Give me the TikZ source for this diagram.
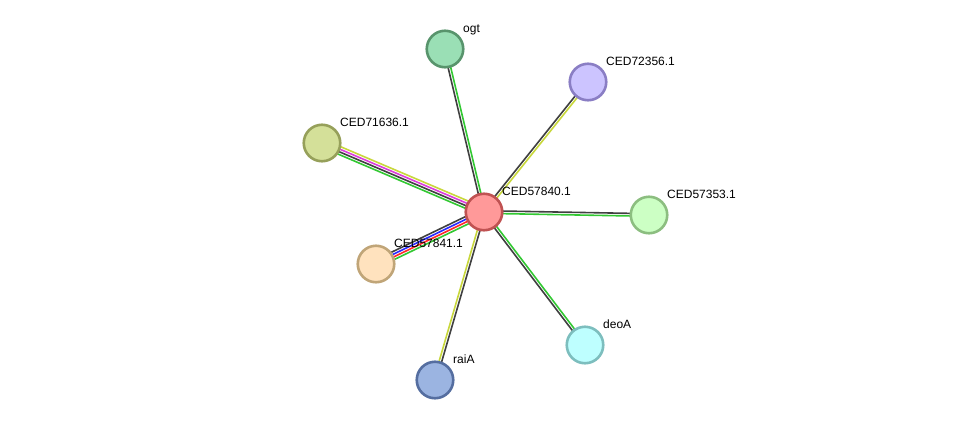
\documentclass[tikz,border=0pt]{standalone}
\usepackage{fontspec}
\setmainfont{Liberation Sans}
\usetikzlibrary{calc}
\pgfdeclarelayer{bg}
\pgfsetlayers{bg,main}
\definecolor{eDark}{RGB}{64,64,64}
\definecolor{eGreen}{RGB}{50,200,50}
\definecolor{eYellow}{RGB}{200,215,60}
\definecolor{eMag}{RGB}{220,60,220}
\definecolor{eBlue}{RGB}{40,40,255}
\definecolor{eRed}{RGB}{255,40,40}
\tikzset{
 prot/.style={circle, draw, line width=2.6pt, minimum size=36.5pt, inner sep=0pt},
 lbl/.style={anchor=base west, font=\fontsize{12}{14}\selectfont, inner sep=0pt},
 ev/.style={line width=1.6pt}
}
\newcommand\evL[4]{\draw[ev,#4] ($(#1.center)!#3!90:(#2.center)$) -- ($(#2.center)!#3!-90:(#1.center)$);}
\newcommand\evR[4]{\draw[ev,#4] ($(#1.center)!#3!-90:(#2.center)$) -- ($(#2.center)!#3!90:(#1.center)$);}
\begin{document}
\begin{tikzpicture}[x=1pt,y=-1pt]
\useasboundingbox (0,0) rectangle (975,426);
\node[prot, fill={rgb,255:red,255;green,153;blue,153}, draw={rgb,255:red,192;green,82;blue,82}] (c) at (484,212) {};
\node[prot, fill={rgb,255:red,154;green,223;blue,181}, draw={rgb,255:red,88;green,148;blue,108}] (ogt) at (445,49) {};
\node[prot, fill={rgb,255:red,204;green,196;blue,255}, draw={rgb,255:red,138;green,126;blue,196}] (p72) at (588,82) {};
\node[prot, fill={rgb,255:red,212;green,224;blue,153}, draw={rgb,255:red,150;green,160;blue,90}] (p71) at (322,143) {};
\node[prot, fill={rgb,255:red,204;green,255;blue,196}, draw={rgb,255:red,140;green,190;blue,128}] (p53) at (649,215) {};
\node[prot, fill={rgb,255:red,255;green,226;blue,190}, draw={rgb,255:red,192;green,165;blue,120}] (p41) at (376,264) {};
\node[prot, fill={rgb,255:red,190;green,255;blue,255}, draw={rgb,255:red,125;green,190;blue,190}] (deo) at (585,345) {};
\node[prot, fill={rgb,255:red,155;green,180;blue,225}, draw={rgb,255:red,85;green,110;blue,160}] (rai) at (435,380) {};
\begin{pgfonlayer}{bg}
 % ogt
 \evL{c}{ogt}{1.3pt}{eDark} \evR{c}{ogt}{1.3pt}{eGreen}
 % CED72356.1
 \evL{c}{p72}{1.3pt}{eDark} \evR{c}{p72}{1.3pt}{eYellow}
 % CED57353.1
 \evL{c}{p53}{1.3pt}{eDark} \evR{c}{p53}{1.3pt}{eGreen}
 % CED71636.1
 \evR{c}{p71}{3.9pt}{eYellow} \evR{c}{p71}{1.3pt}{eMag}
 \evL{c}{p71}{1.3pt}{eDark} \evL{c}{p71}{3.9pt}{eGreen}
 % CED57841.1
 \evR{c}{p41}{3.9pt}{eDark} \evR{c}{p41}{1.3pt}{eBlue}
 \evL{c}{p41}{1.3pt}{eRed} \evL{c}{p41}{3.9pt}{eGreen}
 % deoA
 \evL{c}{deo}{1.3pt}{eGreen} \evR{c}{deo}{1.3pt}{eDark}
 % raiA
 \evL{c}{rai}{1.3pt}{eDark} \evR{c}{rai}{1.3pt}{eYellow}
\end{pgfonlayer}
\node[lbl] (lc) at ($(c.center)+(18,-17)$) {CED57840.1};
\node[lbl] (logt) at ($(ogt.center)+(18,-17)$) {ogt};
\node[lbl] (l72) at ($(p72.center)+(18,-17)$) {CED72356.1};
\node[lbl] (l71) at ($(p71.center)+(18,-17)$) {CED71636.1};
\node[lbl] (l53) at ($(p53.center)+(18,-17)$) {CED57353.1};
\node[lbl] (l41) at ($(p41.center)+(18,-17)$) {CED57841.1};
\node[lbl] (ldeo) at ($(deo.center)+(18,-17)$) {deoA};
\node[lbl] (lrai) at ($(rai.center)+(18,-17)$) {raiA};
\end{tikzpicture}
\end{document}
